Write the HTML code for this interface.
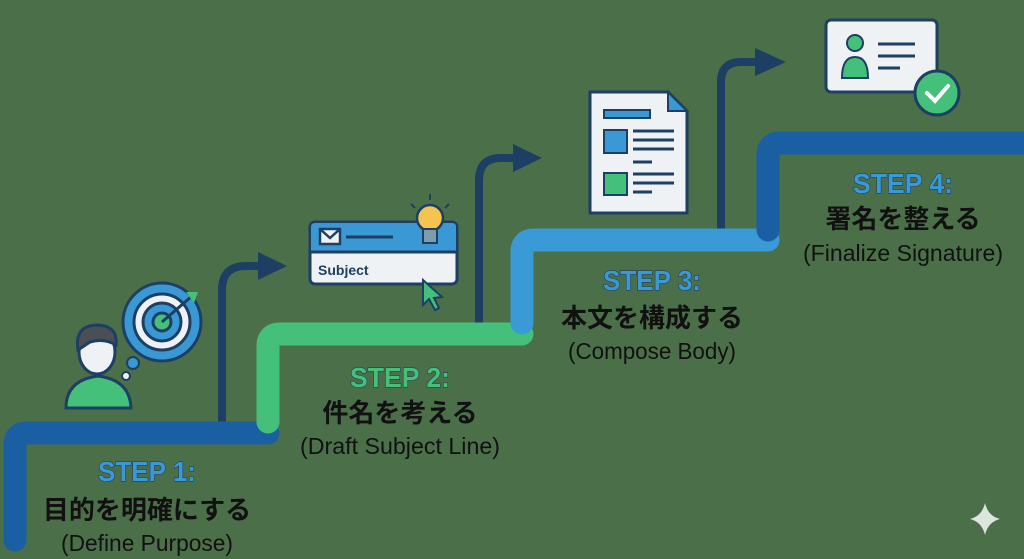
<!DOCTYPE html>
<html><head><meta charset="utf-8"><style>
html,body{margin:0;padding:0;background:#4b6f48;}
svg{display:block}
.s{font-family:"Liberation Sans",sans-serif;font-weight:bold;font-size:28px;text-anchor:middle;stroke:#1d3f63;stroke-width:1.2px;paint-order:stroke}
.j{font-family:"Liberation Sans","Noto Sans CJK JP",sans-serif;font-weight:bold;font-size:26px;text-anchor:middle;fill:#111}
.e{font-family:"Liberation Sans",sans-serif;font-size:23px;text-anchor:middle;fill:#111}
</style></head><body>
<svg width="1024" height="559" viewBox="0 0 1024 559">
<rect width="1024" height="559" fill="#4b6f48"/>
<g fill="none" stroke="#1d3f63" stroke-width="8" stroke-linecap="round">
<path d="M222 425 V290 Q222 266 246 266 H265"/>
<path d="M479 330 V180 Q479 158 501 158 H520"/>
<path d="M721 232 V82 Q721 62 741 62 H762"/>
</g>
<g fill="#1d3f63">
<polygon points="258,252 287,266 258,280"/>
<polygon points="513,144 542,158 513,172"/>
<polygon points="755,48 786,62 755,76"/>
</g>
<g fill="none" stroke-width="23" stroke-linecap="round" stroke-linejoin="round">
<path d="M15 540 V445 Q15 433 27 433 H268" stroke="#1b5fa3"/>
<path d="M268 422 V346 Q268 334 280 334 H522" stroke="#45c07a"/>
<path d="M522 323 V252 Q522 240 534 240 H768" stroke="#3a9ad6"/>
<path d="M768 230 V155 Q768 143 780 143 H1024" stroke="#1b5fa3"/>
</g>
<text class="s" x="147" y="481" fill="#3a98d4" textLength="98" lengthAdjust="spacingAndGlyphs">STEP 1:</text>
<text class="j" x="147" y="519">目的を明確にする</text>
<text class="e" x="147" y="551" textLength="172" lengthAdjust="spacingAndGlyphs">(Define Purpose)</text>
<text class="s" x="400" y="387" fill="#45c07a" textLength="100" lengthAdjust="spacingAndGlyphs">STEP 2:</text>
<text class="j" x="400" y="422">件名を考える</text>
<text class="e" x="400" y="454" textLength="200" lengthAdjust="spacingAndGlyphs">(Draft Subject Line)</text>
<text class="s" x="652" y="290" fill="#3a98d4" textLength="98" lengthAdjust="spacingAndGlyphs">STEP 3:</text>
<text class="j" x="652" y="327">本文を構成する</text>
<text class="e" x="652" y="359" textLength="168" lengthAdjust="spacingAndGlyphs">(Compose Body)</text>
<text class="s" x="903" y="193" fill="#3a98d4" textLength="100" lengthAdjust="spacingAndGlyphs">STEP 4:</text>
<text class="j" x="903" y="228">署名を整える</text>
<text class="e" x="903" y="261" textLength="200" lengthAdjust="spacingAndGlyphs">(Finalize Signature)</text>
<g stroke="#1d3f63" stroke-width="3">
<path d="M66 408 Q66 380 98 376 Q130 380 131 408 Z" fill="#45c07a"/>
<ellipse cx="97" cy="352" rx="18" ry="22" fill="#eef2f4"/>
<path d="M78 350 Q74 325 98 325 Q118 326 116 345 Q104 338 90 342 Z" fill="#4a4f55"/>
</g>
<circle cx="126" cy="376" r="4" fill="#eef2f4" stroke="#1d3f63" stroke-width="2"/>
<circle cx="133" cy="363" r="6" fill="#3a98d4" stroke="#1d3f63" stroke-width="2"/>
<circle cx="162" cy="322" r="39" fill="#3a98d4" stroke="#1d3f63" stroke-width="3"/>
<circle cx="162" cy="322" r="28" fill="#eef2f4" stroke="#1d3f63" stroke-width="3"/>
<circle cx="162" cy="322" r="19" fill="#3a98d4" stroke="#1d3f63" stroke-width="3"/>
<circle cx="162" cy="322" r="9" fill="#45c07a" stroke="#1d3f63" stroke-width="3"/>
<path d="M162 322 L192 296" stroke="#1d3f63" stroke-width="3"/>
<polygon points="186,292 198,292 194,303" fill="#45c07a"/>
<rect x="310" y="222" width="147" height="62" rx="5" fill="#eef2f4" stroke="#1d3f63" stroke-width="3"/>
<path d="M311 227 Q311 223 315 223 H452 Q456 223 456 227 V252 H311Z" fill="#3a98d4"/>
<line x1="311" y1="252" x2="456" y2="252" stroke="#1d3f63" stroke-width="3"/>
<rect x="320" y="229" width="20" height="15" fill="#eef2f4" stroke="#1d3f63" stroke-width="2.5"/>
<path d="M320 229 L330 238 L340 229" fill="none" stroke="#1d3f63" stroke-width="2.5"/>
<line x1="346" y1="237" x2="393" y2="237" stroke="#1d3f63" stroke-width="3"/>
<text x="318" y="275" font-family="Liberation Sans,sans-serif" font-size="14" font-weight="bold" fill="#1d3f63">Subject</text>
<path d="M423 280 L423 305 L429 299 L435 310 L439 308 L434 298 L442 297 Z" fill="#45c07a" stroke="#1d3f63" stroke-width="2"/>
<circle cx="430" cy="218" r="13" fill="#f4c44e" stroke="#1d3f63" stroke-width="2.5"/>
<rect x="423" y="229" width="14" height="14" fill="#7f9bb0" stroke="#1d3f63" stroke-width="2"/>
<g stroke="#1d3f63" stroke-width="2"><line x1="430" y1="194" x2="430" y2="200"/><line x1="411" y1="204" x2="415" y2="208"/><line x1="449" y1="204" x2="445" y2="208"/></g>
<path d="M590 92 H668 L687 111 V213 H590Z" fill="#eef2f4" stroke="#1d3f63" stroke-width="3"/>
<path d="M668 92 V111 H687Z" fill="#3a98d4" stroke="#1d3f63" stroke-width="2"/>
<rect x="604" y="110" width="46" height="8" fill="#3a98d4" stroke="#1d3f63" stroke-width="2"/>
<rect x="604" y="130" width="23" height="23" fill="#3a98d4" stroke="#1d3f63" stroke-width="2"/>
<rect x="604" y="173" width="23" height="22" fill="#45c07a" stroke="#1d3f63" stroke-width="2"/>
<g stroke="#1d3f63" stroke-width="3"><line x1="633" y1="131" x2="674" y2="131"/><line x1="633" y1="140" x2="674" y2="140"/><line x1="633" y1="149" x2="674" y2="149"/><line x1="633" y1="162" x2="652" y2="162"/><line x1="633" y1="174" x2="674" y2="174"/><line x1="633" y1="183" x2="674" y2="183"/><line x1="633" y1="192" x2="652" y2="192"/></g>
<rect x="826" y="20" width="111" height="72" rx="5" fill="#eef2f4" stroke="#1d3f63" stroke-width="3"/>
<circle cx="855" cy="43" r="8" fill="#45c07a" stroke="#1d3f63" stroke-width="2"/>
<path d="M842 78 Q842 57 855 57 Q868 57 868 78Z" fill="#45c07a" stroke="#1d3f63" stroke-width="2"/>
<g stroke="#1d3f63" stroke-width="3"><line x1="878" y1="44" x2="915" y2="44"/><line x1="878" y1="56" x2="915" y2="56"/><line x1="878" y1="68" x2="900" y2="68"/></g>
<circle cx="937" cy="93" r="22" fill="#45c07a" stroke="#1d3f63" stroke-width="3"/>
<path d="M927 93 L935 101 L948 86" fill="none" stroke="#fff" stroke-width="4" stroke-linecap="round"/>
<path d="M985 503 Q988 516 1000 519 Q988 522 985 535 Q982 522 970 519 Q982 516 985 503Z" fill="#dde5df"/>
</svg>
</body></html>
